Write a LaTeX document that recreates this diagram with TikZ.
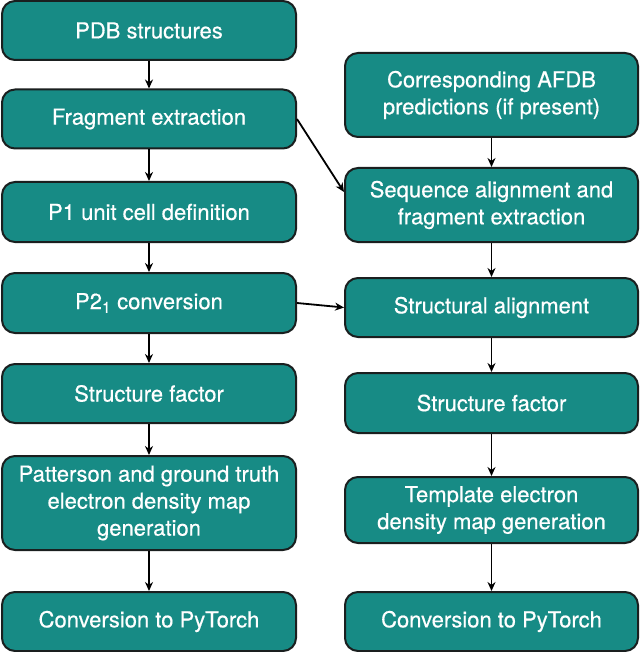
\documentclass[tikz,border=0pt]{standalone}
\usepackage{fontspec}
\setmainfont{TeX Gyre Heros}[FakeBold=0.5]
\usetikzlibrary{arrows.meta,calc}
\definecolor{boxfill}{HTML}{178B85}
\definecolor{boxline}{HTML}{1A1F1F}
\tikzset{
  x=1pt,y=-1pt,
  flowbox/.style={draw=boxline, line width=2pt, fill=boxfill, rounded corners=13pt,
    text=white, align=center, inner sep=0pt,
    font=\fontsize{22}{27}\selectfont},
  lbox/.style={flowbox, minimum width=294pt},
  rbox/.style={flowbox, minimum width=293pt},
  flowarrow/.style={draw=black, line width=1.8pt, -{Stealth[length=9pt,width=8pt]}}
}
\begin{document}
\begin{tikzpicture}
\useasboundingbox (0,0) rectangle (640,652);
% left column
\node[lbox, minimum height=59pt] (L1) at (149,30.5) {PDB structures};
\node[lbox, minimum height=59pt] (L2) at (149,119) {Fragment extraction};
\node[lbox, minimum height=60pt] (L3) at (149,212) {P1 unit cell definition};
\node[lbox, minimum height=60pt] (L4) at (149,303) {P2\textsubscript{1} conversion};
\node[lbox, minimum height=59pt] (L5) at (149,393.5) {Structure factor};
\node[lbox, minimum height=94pt] (L6) at (149,503) {Patterson and ground truth\\electron density map\\generation};
\node[lbox, minimum height=59pt] (L7) at (149,621.5) {Conversion to PyTorch};
% right column
\node[rbox, minimum height=84pt] (R1) at (491.5,95) {Corresponding AFDB\\predictions (if present)};
\node[rbox, minimum height=74pt] (R2) at (491.5,205) {Sequence alignment and\\fragment extraction};
\node[rbox, minimum height=59pt] (R3) at (491.5,307.5) {Structural alignment};
\node[rbox, minimum height=60pt] (R4) at (491.5,403) {Structure factor};
\node[rbox, minimum height=66pt] (R5) at (491.5,510) {Template electron\\density map generation};
\node[rbox, minimum height=59pt] (R6) at (491.5,621.5) {Conversion to PyTorch};
% arrows
\draw[flowarrow] (L1) -- (L2);
\draw[flowarrow] (L2) -- (L3);
\draw[flowarrow] (L3) -- (L4);
\draw[flowarrow] (L4) -- (L5);
\draw[flowarrow] (L5) -- (L6);
\draw[flowarrow] (L6) -- (L7);
\draw[flowarrow] (R1) -- (R2);
\draw[flowarrow] (R2) -- (R3);
\draw[flowarrow] (R3) -- (R4);
\draw[flowarrow] (R4) -- (R5);
\draw[flowarrow] (R5) -- (R6);
\draw[flowarrow] (L2.east) -- ([yshift=13pt]R2.west);
\draw[flowarrow] (L4.east) -- (R3.west);
\end{tikzpicture}
\end{document}
